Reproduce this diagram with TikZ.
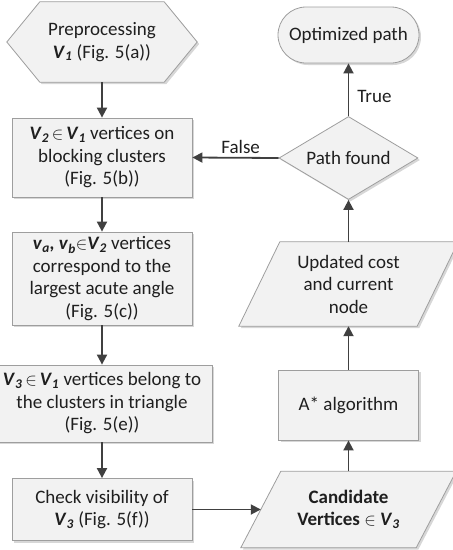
\documentclass[tikz,border=0pt]{standalone}
\usepackage{fontspec}
\setmainfont{Carlito}
\usetikzlibrary{arrows.meta,shapes.geometric,shadows,backgrounds}
\newcommand{\bvar}[2]{\textbf{\textit{#1}\textsubscript{\textit{#2}}}}
\begin{document}
\begin{tikzpicture}[x=1pt,y=-1pt,
  every node/.style={font=\fontsize{19}{22.5}\selectfont, text=black!88},
  shp/.style={draw=black!38, line width=0.8pt, fill=black!5,
    drop shadow={shadow xshift=2pt,shadow yshift=-2pt,fill=black!45,opacity=0.35}},
  box/.style={shp, rectangle, align=center, inner sep=0pt},
  lbl/.style={align=center, inner sep=0pt},
  conn/.style={draw=black!75, line width=1.8pt, -{Triangle[length=10pt,width=10pt]}},
]
\useasboundingbox (0,0) rectangle (453,550);

% left column
\node[lbl, minimum width=190, minimum height=80] (hex) at (102,42)
  {Preprocessing\\\bvar{V}{1} (Fig. 5(a))};
\node[box, minimum width=180, minimum height=79] (b2) at (102,157.5)
  {\bvar{V}{2}$\,\in\,$\bvar{V}{1} vertices on\\blocking clusters\\(Fig. 5(b))};
\node[box, minimum width=180, minimum height=93] (b3) at (102,278.5)
  {\bvar{v}{a}\textbf{\textit{,}} \bvar{v}{b}$\in$\bvar{V}{2} vertices\\correspond to the\\largest acute angle\\(Fig. 5(c))};
\node[box, minimum width=220, minimum height=77] (b4) at (102,403.5)
  {\bvar{V}{3}$\,\in\,$\bvar{V}{1} vertices belong to\\the clusters in triangle\\(Fig. 5(e))};
\node[box, minimum width=180, minimum height=62] (b5) at (102,509.5)
  {Check visibility of\\\bvar{V}{3} (Fig. 5(f))};

% right column
\node[lbl, minimum width=175, minimum height=76] (cand) at (348.5,509.5)
  {\textbf{Candidate}\\\textbf{Vertices $\in$ \bvar{V}{3}}};
\node[box, minimum width=140, minimum height=70] (astar) at (348.5,405) {A* algorithm};
\node[lbl, minimum width=178, minimum height=84] (upd) at (348.5,284)
  {Updated cost\\and current\\node};
\node[shp, diamond, aspect=1.67, inner sep=0pt, minimum width=139, minimum height=83] (dec) at (348.5,158) {Path found};
\node[box, rounded corners=28pt, minimum width=141, minimum height=56] (opt) at (348.5,35) {Optimized path};

\begin{scope}[on background layer]
\draw[shp] (hex.west) -- ([xshift=33pt]hex.north west) -- ([xshift=-33pt]hex.north east)
  -- (hex.east) -- ([xshift=-33pt]hex.south east) -- ([xshift=33pt]hex.south west) -- cycle;
\draw[shp] ([xshift=-20.5pt]upd.south west) -- ([xshift=-20.5pt]upd.south east)
  -- ([xshift=20.5pt]upd.north east) -- ([xshift=20.5pt]upd.north west) -- cycle;
\draw[shp] ([xshift=-20pt]cand.south west) -- ([xshift=-20pt]cand.south east)
  -- ([xshift=20pt]cand.north east) -- ([xshift=20pt]cand.north west) -- cycle;
\end{scope}

% connectors
\draw[conn] (hex.south) -- (b2.north);
\draw[conn] (b2.south) -- (b3.north);
\draw[conn] (b3.south) -- (b4.north);
\draw[conn] (b4.south) -- (b5.north);
\draw[conn] (b5.east) -- (cand.west);
\draw[conn] (cand.north) -- (astar.south);
\draw[conn] (astar.north) -- (upd.south);
\draw[conn] (upd.north) -- (dec.south);
\draw[conn] (dec.north) -- node[pos=0.37, anchor=west, inner sep=0pt, xshift=8pt] {True} (opt.south);
\draw[conn] (dec.west) -- node[pos=0.44, inner sep=0pt, yshift=10.5pt] {False} (b2.east);
\end{tikzpicture}
\end{document}
